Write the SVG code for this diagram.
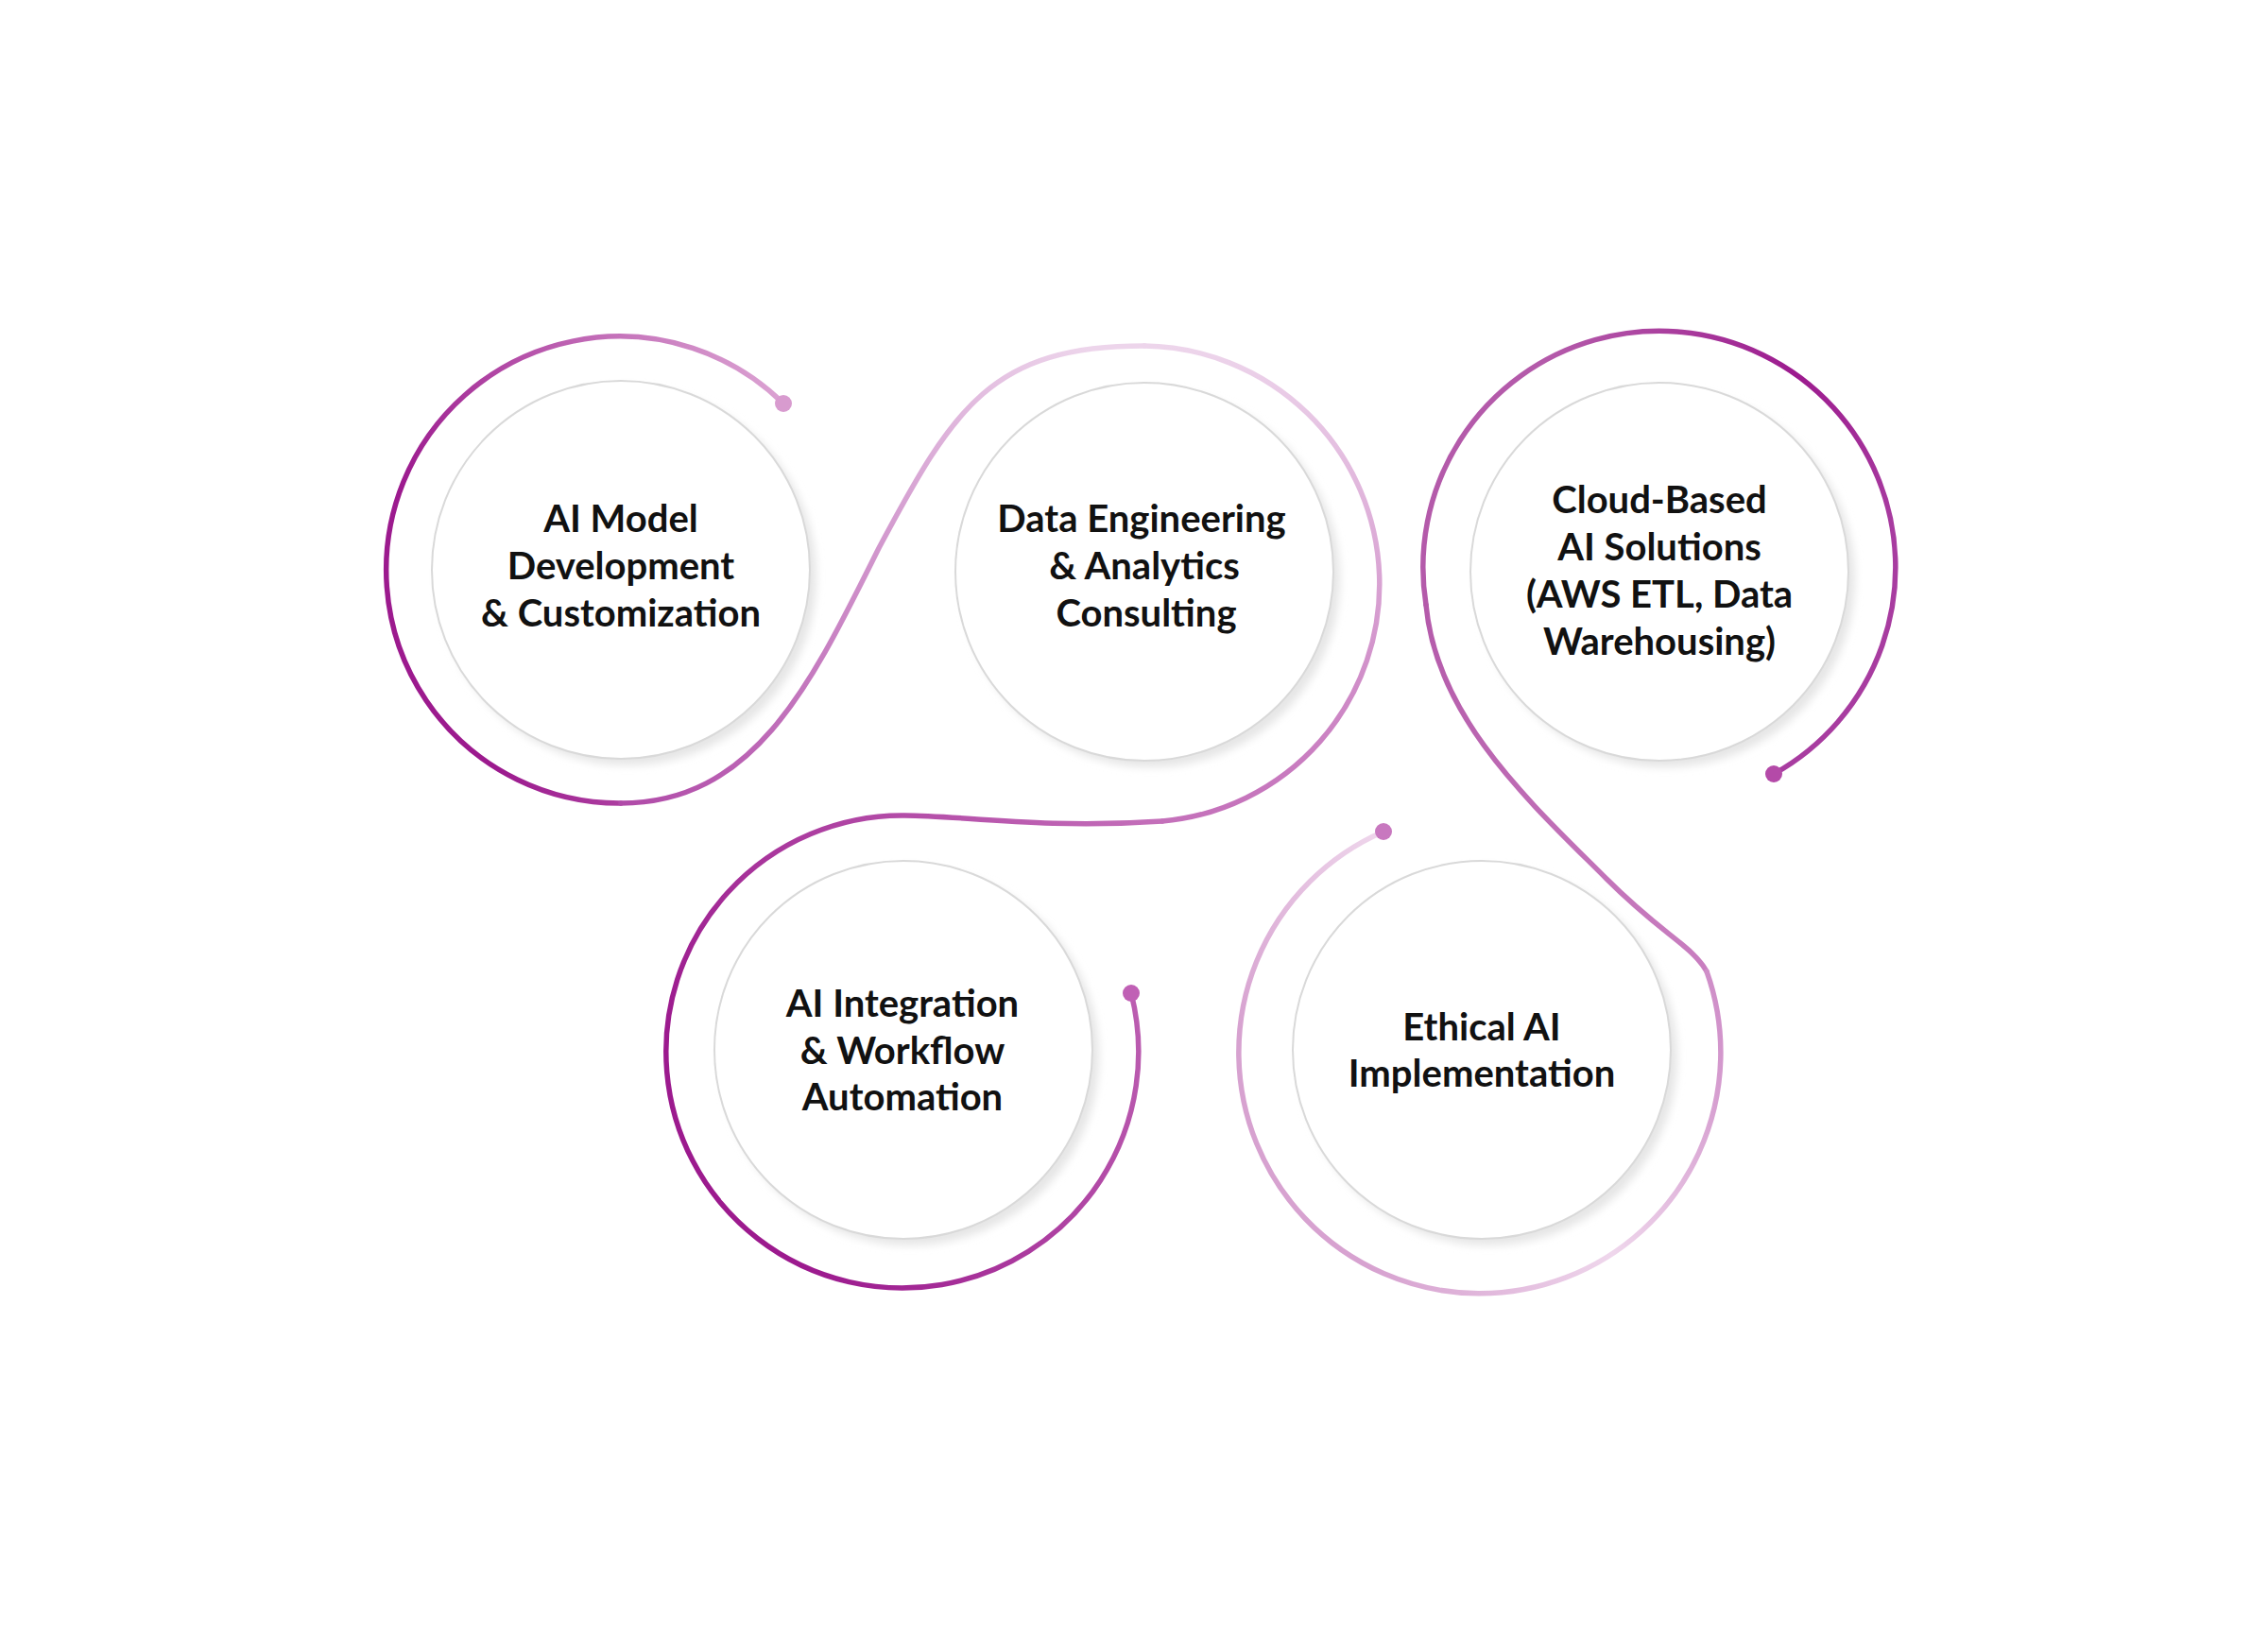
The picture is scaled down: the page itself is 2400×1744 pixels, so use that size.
<svg xmlns="http://www.w3.org/2000/svg" width="2400" height="1744" viewBox="0 0 2400 1744">
<style>
.t{font-family:Lato,"Noto Sans","Liberation Sans",sans-serif;font-weight:bold;font-size:40px;fill:#111;text-anchor:middle}
.ring{fill:#fff;stroke:#d9d9d9;stroke-width:2}
.sh{fill:#e6e6e6;filter:url(#b)}
.p{fill:none;stroke-width:5.5;stroke-linecap:round}
</style>
<defs>
<filter id="b" x="-20%" y="-20%" width="140%" height="140%"><feGaussianBlur stdDeviation="4"/></filter>
<linearGradient id="g1" gradientUnits="userSpaceOnUse" x1="829" y1="427" x2="440" y2="560"><stop offset="0" stop-color="#dba2d2"/><stop offset="1" stop-color="#9c1a8e"/></linearGradient>
<linearGradient id="g2" gradientUnits="userSpaceOnUse" x1="657" y1="850" x2="1150" y2="366"><stop offset="0" stop-color="#b04aa8"/><stop offset="1" stop-color="#edd5eb"/></linearGradient>
<linearGradient id="g3" gradientUnits="userSpaceOnUse" x1="1211" y1="366" x2="1211" y2="870"><stop offset="0" stop-color="#edd5eb"/><stop offset="1" stop-color="#c470ba"/></linearGradient>
<linearGradient id="g4" gradientUnits="userSpaceOnUse" x1="1230" y1="870" x2="740" y2="1150"><stop offset="0" stop-color="#c470ba"/><stop offset="1" stop-color="#9c1a8e"/></linearGradient>
<linearGradient id="g5" gradientUnits="userSpaceOnUse" x1="1877" y1="819" x2="1509" y2="640"><stop offset="0" stop-color="#a83ca0"/><stop offset="0.4" stop-color="#9c1a8e"/><stop offset="1" stop-color="#b45aaa"/></linearGradient>
<linearGradient id="g6" gradientUnits="userSpaceOnUse" x1="1509" y1="640" x2="1806" y2="1028"><stop offset="0" stop-color="#b45aaa"/><stop offset="1" stop-color="#c97fc0"/></linearGradient>
<linearGradient id="g7" gradientUnits="userSpaceOnUse" x1="1806" y1="1028" x2="1400" y2="1250"><stop offset="0" stop-color="#cf8ec8"/><stop offset="0.5" stop-color="#efd7ec"/><stop offset="1" stop-color="#d7a2d0"/></linearGradient>
</defs>
<g id="connectors">
<path class="p" stroke="url(#g1)" d="M829 427 A247 247 0 1 0 657 850"/>
<path class="p" stroke="url(#g2)" d="M657 850 C800 850 860 720 930 580 C1010 430 1050 366 1211 366"/>
<path class="p" stroke="url(#g3)" d="M1211 366 A252 252 0 0 1 1230 869"/>
<path class="p" stroke="url(#g4)" d="M1230 869 C1100 878 1010 862 954 863 A250 250 0 1 0 1197 1051"/>
<circle cx="829" cy="427" r="9" fill="#d89bcf"/>
<circle cx="1197" cy="1051" r="9" fill="#c060b5"/>
<path class="p" stroke="url(#g5)" d="M1877 819 A250 250 0 1 0 1509 640"/>
<path class="p" stroke="url(#g6)" d="M1509 640 C1520 760 1620 850 1700 930 C1760 990 1790 1000 1806 1028"/>
<path class="p" stroke="url(#g7)" d="M1806 1028 A255 255 0 1 1 1464 880"/>
<circle cx="1877" cy="819" r="9" fill="#b44aa8"/>
<circle cx="1464" cy="880" r="9" fill="#c878bf"/>
</g>
<g id="n1"><circle class="sh" cx="664" cy="610" r="200"/><circle class="ring" cx="657" cy="603" r="200"/>
<text class="t" x="657" y="563">AI Model</text><text class="t" x="657" y="613">Development</text><text class="t" x="657" y="663">&amp; Customization</text></g>
<g id="n2"><circle class="sh" cx="1218" cy="612" r="200"/><circle class="ring" cx="1211" cy="605" r="200"/>
<text class="t" x="1208" y="563">Data Engineering</text><text class="t" x="1211" y="613">&amp; Analytics</text><text class="t" x="1213" y="663">Consulting</text></g>
<g id="n3"><circle class="sh" cx="1763" cy="612" r="200"/><circle class="ring" cx="1756" cy="605" r="200"/>
<text class="t" x="1756" y="543">Cloud-Based</text><text class="t" x="1756" y="593">AI Solutions</text><text class="t" x="1756" y="643">(AWS ETL, Data</text><text class="t" x="1756" y="693">Warehousing)</text></g>
<g id="n4"><circle class="sh" cx="963" cy="1118" r="200"/><circle class="ring" cx="956" cy="1111" r="200"/>
<text class="t" x="955" y="1076">AI Integration</text><text class="t" x="955" y="1126">&amp; Workflow</text><text class="t" x="955" y="1175">Automation</text></g>
<g id="n5"><circle class="sh" cx="1575" cy="1118" r="200"/><circle class="ring" cx="1568" cy="1111" r="200"/>
<text class="t" x="1568" y="1101">Ethical AI</text><text class="t" x="1568" y="1150">Implementation</text></g>
</svg>
